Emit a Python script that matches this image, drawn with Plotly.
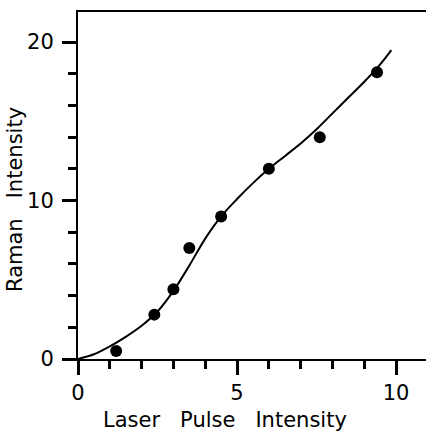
import plotly.graph_objects as go

# Measured points
pulse_intensity = [1.2, 2.4, 3.0, 3.5, 4.5, 6.0, 7.6, 9.4]
raman_intensity = [0.5, 2.8, 4.4, 7.0, 9.0, 12.0, 14.0, 18.1]

# Smooth fitted curve
curve_x = [0, 0.5, 1.0, 1.5, 2.0, 2.5, 3.0, 3.5, 4.0, 4.5, 5.0, 5.5, 6.0,
           6.5, 7.0, 7.5, 8.0, 8.5, 9.0, 9.5, 9.85]
curve_y = [0, 0.3, 0.8, 1.4, 2.1, 3.0, 4.3, 5.9, 7.6, 9.0, 10.1, 11.1, 12.0,
           12.8, 13.6, 14.5, 15.5, 16.5, 17.5, 18.6, 19.5]

x_major = [0, 5, 10]
x_minor = [1, 2, 3, 4, 6, 7, 8, 9]
y_major = [0, 10, 20]
y_minor = [2, 4, 6, 8, 12, 14, 16, 18]

x_title = "Laser   Pulse   Intensity"
y_title = "Raman   Intensity"

tick_font = dict(family="DejaVu Sans", size=21, color="black")
title_font = dict(family="DejaVu Sans", size=21, color="black")

PLOT_W, PLOT_H = 348, 347  # plotting area in px

fig = go.Figure()
fig.add_trace(go.Scatter(x=curve_x, y=curve_y, mode="lines",
                         line=dict(color="black", width=2, shape="spline"),
                         hoverinfo="skip"))
fig.add_trace(go.Scatter(x=pulse_intensity, y=raman_intensity, mode="markers",
                         marker=dict(color="black", size=12)))

axis_common = dict(
    ticks="outside", ticklen=14, tickwidth=2.5, tickcolor="black",
    showline=True, linecolor="black", linewidth=2,
    showgrid=False, zeroline=False, tickfont=tick_font,
)

fig.update_layout(
    width=426, height=433,
    margin=dict(l=78, r=0, t=12, b=74),
    paper_bgcolor="white", plot_bgcolor="white",
    showlegend=False,
    xaxis=dict(range=[0, 10.94], tickvals=x_major, mirror=True,
               minor=dict(tickvals=x_minor, ticks="outside", ticklen=8,
                          tickwidth=2.5, tickcolor="black", showgrid=False),
               **axis_common),
    yaxis=dict(range=[0, 21.9], tickvals=y_major, ticklabelstandoff=4,
               minor=dict(tickvals=y_minor, ticks="outside", ticklen=8,
                          tickwidth=2.5, tickcolor="black", showgrid=False),
               **axis_common),
    annotations=[
        dict(text=x_title, xref="paper", yref="paper", x=(225 - 78) / PLOT_W,
             y=-61 / PLOT_H, xanchor="center", yanchor="middle",
             showarrow=False, font=title_font),
        dict(text=y_title, xref="paper", yref="paper", x=-63 / PLOT_W,
             y=(359 - 200) / PLOT_H, xanchor="center", yanchor="middle",
             textangle=-90, showarrow=False, font=title_font),
    ],
)

fig.write_html("out.html")
